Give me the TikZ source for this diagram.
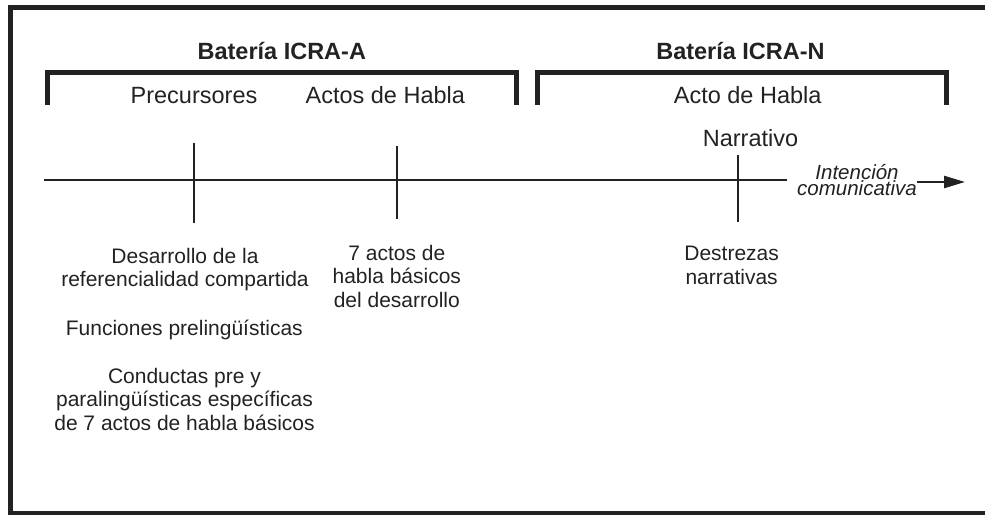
\documentclass[tikz,border=0pt]{standalone}
\usepackage{fontspec}
\setmainfont{Liberation Sans}
\usetikzlibrary{arrows.meta}
\definecolor{ink}{HTML}{222222}
\tikzset{
  lbl/.style={inner sep=0pt, anchor=base, text=ink, font=\fontsize{23.5}{28}\selectfont},
  hdr/.style={lbl, font=\fontsize{23.5}{28}\selectfont\bfseries},
  body/.style={inner sep=0pt, anchor=base, text=ink, align=center, font=\fontsize{21}{23.5}\selectfont},
  axislbl/.style={inner sep=0pt, anchor=base, text=ink, align=center, font=\fontsize{20.5}{16}\selectfont\itshape},
  bracket/.style={draw=ink, line width=5pt, line join=miter},
  frame/.style={draw=ink, line width=5pt},
  axis/.style={draw=ink, line width=2pt},
  tick/.style={draw=ink, line width=2pt},
  arrowline/.style={draw=ink, line width=2.5pt, -{Triangle[length=21pt,width=12pt]}}
}
\begin{document}
\begin{tikzpicture}[x=1pt,y=-1pt]
\useasboundingbox (0,0) rectangle (985,514);
% outer frame (right side cut off)
\draw[frame] (10.5,7.5) rectangle (1010,513.5);
% headers
\node[hdr] (batA) at (281.8,59) {Batería ICRA-A};
\node[hdr] (batN) at (740.5,59) {Batería ICRA-N};
% brackets
\draw[bracket] (47,105) -- (47,72) -- (516,72) -- (516,105);
\draw[bracket] (537,105) -- (537,72) -- (946.5,72) -- (946.5,105);
% top labels
\node[lbl] (prec) at (194,103) {Precursores};
\node[lbl] (actos) at (385.3,103) {Actos de Habla};
\node[lbl] (acto) at (747.7,103) {Acto de Habla};
\node[lbl] (narr) at (750.5,146.7) {Narrativo};
% axis
\coordinate (lstart) at (44.3,180);
\coordinate (lend) at (787.3,180);
\draw[axis] (lstart) -- (lend);
\coordinate (t1a) at (194.3,143.3); \coordinate (t1b) at (194.3,222.7);
\coordinate (t2a) at (396.7,146);   \coordinate (t2b) at (396.7,218.7);
\coordinate (t3a) at (737.7,155);   \coordinate (t3b) at (737.7,221.7);
\draw[tick] (t1a) -- (t1b);
\draw[tick] (t2a) -- (t2b);
\draw[tick] (t3a) -- (t3b);
\node[axislbl] (intc) at (857,195) {Intención\\comunicativa};
\coordinate (arrowend) at (965,182);
\draw[arrowline] (intc.east |- arrowend) -- (arrowend);
% bottom texts (base = baseline of last line)
\node[body] (des) at (185,286.7) {Desarrollo de la\\referencialidad compartida};
\node[body] (fun) at (184.3,335) {Funciones prelingüísticas};
\node[body] (con) at (184.5,430) {Conductas pre y\\paralingüísticas específicas\\de 7 actos de habla básicos};
\node[body] (siete) at (396.8,307.3) {7 actos de\\habla básicos\\del desarrollo};
\node[body] (dest) at (731.6,284) {Destrezas\\narrativas};
\end{tikzpicture}
\end{document}
